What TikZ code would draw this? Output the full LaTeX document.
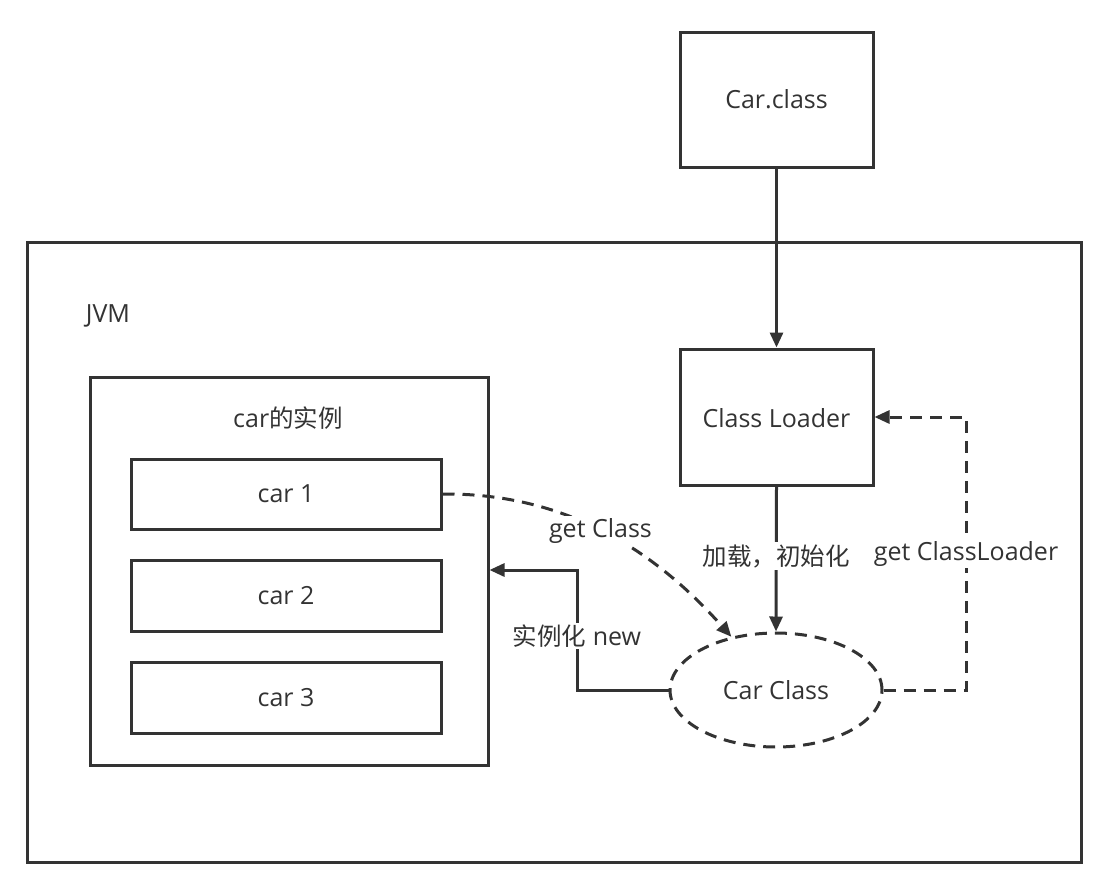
\documentclass[tikz,border=0pt]{standalone}
\usepackage{fontspec}
\setmainfont{Open Sans}
\newfontfamily\cjk{Noto Sans CJK SC}
\usetikzlibrary{arrows.meta,shapes.geometric}
\definecolor{ink}{HTML}{333333}
\newcommand{\zh}[1]{{\cjk\fontsize{24.5}{28}\selectfont #1}}
\begin{document}
\begin{tikzpicture}[x=1pt,y=-1pt,
  txt/.style={text=ink,font=\fontsize{25}{29}\selectfont},
  box/.style={draw=ink,line width=3pt,inner sep=0pt,txt},
  conn/.style={draw=ink,line width=3pt,-{Triangle[length=15pt,width=13pt]}},
  dsh/.style={dash pattern=on 12pt off 8pt},
  lbl/.style={fill=white,inner sep=2pt,txt}]
\useasboundingbox (0,0) rectangle (1118,881);
\node[box,minimum width=1054pt,minimum height=620pt] (jvm) at (554,552) {};
\node[txt] (jvml) at (108,316) {JVM};
\node[box,minimum width=193pt,minimum height=135pt] (carclass) at (776.5,99.5) {Car.class};
\node[box,minimum width=193pt,minimum height=136pt] (loader) at (776.5,417) {};
\node[txt] (loadert) at (776.5,418) {Class Loader};
\node[box,minimum width=398pt,minimum height=388pt] (inst) at (289,571) {};
\node[txt] (instt) at (288,418) {car\zh{的实例}};
\node[box,minimum width=310pt,minimum height=70pt] (c1) at (286,494) {car 1};
\node[box,minimum width=310pt,minimum height=71pt] (c2) at (286,595.5) {car 2};
\node[box,minimum width=310pt,minimum height=71pt] (c3) at (286,697.5) {car 3};
\node[box,dsh,ellipse,minimum width=212pt,minimum height=114pt] (cc) at (776,690) {Car Class};
\coordinate (r1) at (966,690);
\coordinate (r2) at (966,417);
\coordinate (l1) at (577,690);
\coordinate (l2) at (577,570);
\draw[conn] (carclass.south) -- (loader.north);
\draw[conn] (loader.south) -- (cc.north) node[lbl,pos=0.48] (t1) {\zh{加载，初始化}};
\draw[conn,dsh] (cc.east) -- (r1) -- node[lbl,pos=0.5] (t2) {get ClassLoader} (r2) -- (loader.east);
\draw[conn] (cc.west) -- (l1) -- node[lbl,pos=0.45] (t3) {\zh{实例化} new} (l2) -- (l2 -| inst.east);
\draw[conn,dsh] (c1.east) .. controls (560,493) and (650,545) .. (cc.130) node[lbl,pos=0.5] (t4) {get Class};
\end{tikzpicture}
\end{document}
